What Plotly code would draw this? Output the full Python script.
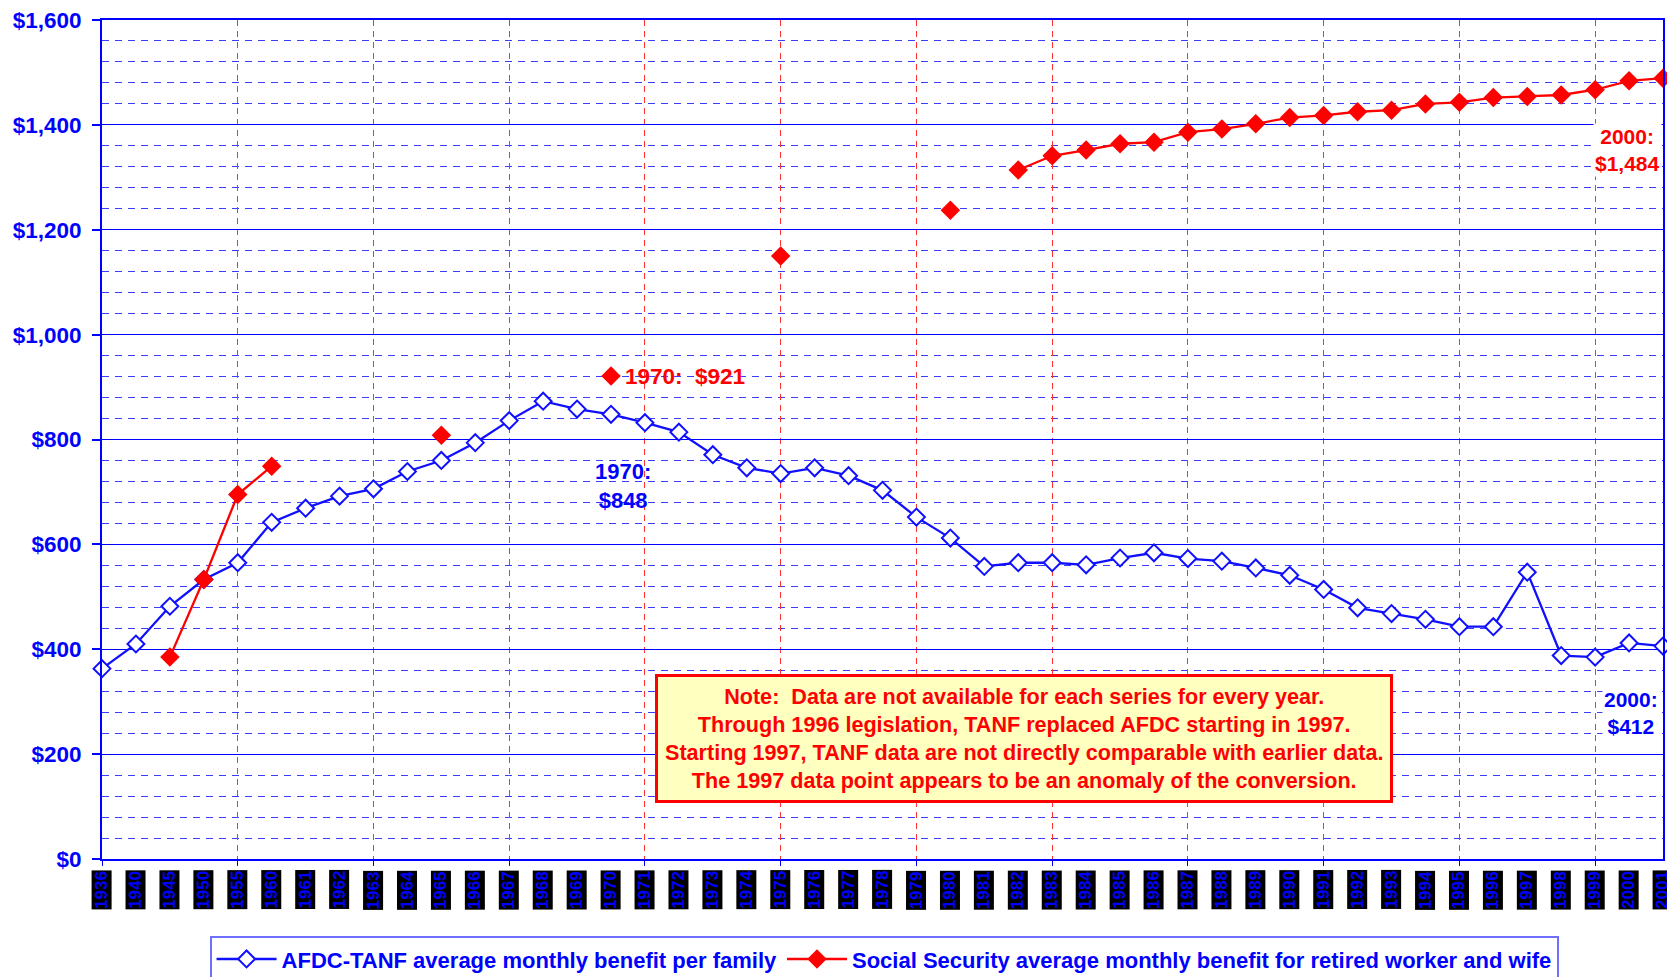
import plotly.graph_objects as go

years = ["1936", "1940", "1945", "1950", "1955",
         "1960", "1961", "1962", "1963", "1964", "1965", "1966", "1967", "1968", "1969",
         "1970", "1971", "1972", "1973", "1974", "1975", "1976", "1977", "1978", "1979",
         "1980", "1981", "1982", "1983", "1984", "1985", "1986", "1987", "1988", "1989",
         "1990", "1991", "1992", "1993", "1994", "1995", "1996", "1997", "1998", "1999",
         "2000", "2001"]

afdc_tanf = [363, 410, 482, 533, 565,
             642, 669, 692, 706, 739, 760, 794, 836, 873, 858,
             848, 832, 814, 771, 746, 735, 746, 731, 703, 652,
             612, 558, 565, 565, 561, 574, 584, 573, 568, 555,
             541, 514, 479, 468, 457, 443, 443, 547, 388, 385,
             412, 406]

social_security = [None, None, 385, 533, 695,
                   749, None, None, None, None, 808, None, None, None, None,
                   921, None, None, None, None, 1150, None, None, None, None,
                   1237, None, 1314, 1341, 1352, 1364, 1367, 1386, 1392, 1402,
                   1414, 1418, 1425, 1428, 1440, 1443, 1452, 1454, 1457, 1467,
                   1484, 1489]

y_ticks = [0, 200, 400, 600, 800, 1000, 1200, 1400, 1600]
y_ticktext = ["$0", "$200", "$400", "$600", "$800", "$1,000", "$1,200", "$1,400", "$1,600"]

FONT = "Liberation Sans, Arial, sans-serif"
BLUE = "#0000ff"
RED = "#ff0000"


def xi(year):
    """serial number of a category on the category axis"""
    return years.index(year)


fig = go.Figure()
fig.add_trace(go.Scatter(
    x=years, y=afdc_tanf, mode="lines+markers",
    name="<b>AFDC-TANF average monthly benefit per family</b>",
    line=dict(color="#1010ff", width=2.3),
    marker=dict(symbol="diamond", size=13, color="white",
                line=dict(color="#1010ff", width=2)),
    cliponaxis=False,
))
fig.add_trace(go.Scatter(
    x=years, y=social_security, mode="lines+markers",
    name="<b>Social Security average monthly benefit for retired worker and wife</b>",
    line=dict(color=RED, width=2.3),
    marker=dict(symbol="diamond", size=15, color=RED),
    connectgaps=False,
    cliponaxis=False,
))

annotations = []
# rotated category labels with black boxes
for yr in years:
    annotations.append(dict(
        x=xi(yr), xref="x", y=-0.013, yref="paper", yanchor="top", xanchor="center",
        text="<b>%s</b>" % yr, textangle=-90, showarrow=False,
        bgcolor="black", borderpad=0,
        font=dict(family=FONT, size=17, color=BLUE),
    ))

annotations += [
    dict(x=xi("1970"), y=921, xref="x", yref="y", xanchor="left", xshift=12,
         text="<b>1970:  $921</b>", showarrow=False,
         font=dict(family=FONT, size=22.5, color=RED)),
    dict(x=xi("1970"), y=712, xref="x", yref="y", xanchor="center", xshift=12,
         text="<b>1970:<br>$848</b>", showarrow=False,
         font=dict(family=FONT, size=22, color=BLUE)),
    dict(x=xi("2000"), y=1353, xref="x", yref="y", xanchor="center", xshift=-2,
         text="<b>2000:<br>$1,484</b>", showarrow=False, bgcolor="white",
         font=dict(family=FONT, size=21, color=RED)),
    dict(x=xi("2000"), y=278, xref="x", yref="y", xanchor="center", xshift=2,
         text="<b>2000:<br>$412</b>", showarrow=False, bgcolor="white",
         font=dict(family=FONT, size=21, color=BLUE)),
    dict(x=0.5905, y=0.144, xref="paper", yref="paper", xanchor="center", yanchor="middle",
         text=("<b>Note:  Data are not available for each series for every year.<br>"
               "Through 1996 legislation, TANF replaced AFDC starting in 1997.<br>"
               "Starting 1997, TANF data are not directly comparable with earlier data.<br>"
               "The 1997 data point appears to be an anomaly of the conversion.</b>"),
         showarrow=False, bgcolor="#ffffc0", bordercolor=RED, borderwidth=3, borderpad=7,
         align="center",
         font=dict(family=FONT, size=21.6, color=RED)),
]

fig.update_layout(
    width=1675, height=977,
    margin=dict(l=94, r=20, t=12, b=126, autoexpand=False),
    paper_bgcolor="white", plot_bgcolor="white",
    showlegend=True,
    legend=dict(orientation="h", x=0.501, xanchor="center", y=-0.092, yanchor="top",
                bgcolor="white", bordercolor="#7070ff", borderwidth=2,
                font=dict(family=FONT, size=22, color=BLUE),
                itemwidth=60, tracegroupgap=0),
    annotations=annotations,
    xaxis=dict(
        type="category", categoryorder="array", categoryarray=years,
        range=[0, len(years) - 1], automargin=False,
        tickmode="array", tickvals=years[::4], ticktext=[""] * len(years[::4]),
        ticks="outside", ticklen=5, tickcolor=BLUE, tickwidth=1,
        showgrid=True, gridcolor="#ff3030", gridwidth=1, griddash="6px,5px",
        showline=True, linecolor=BLUE, linewidth=2, mirror=True,
        zeroline=False,
    ),
    yaxis=dict(
        range=[0, 1600], automargin=False,
        tickmode="array", tickvals=y_ticks, ticktext=["<b>%s</b>" % t for t in y_ticktext],
        tickfont=dict(family=FONT, size=22.5, color=BLUE),
        ticklabeloverflow="allow",
        ticks="outside", ticklen=8, tickcolor=BLUE, tickwidth=1.5,
        ticklabelstandoff=6,
        showgrid=True, gridcolor=BLUE, gridwidth=1.3,
        minor=dict(dtick=40, tick0=0, showgrid=True, gridcolor="#3c3cff",
                   gridwidth=1, griddash="7px,6px", ticks=""),
        showline=True, linecolor=BLUE, linewidth=2, mirror=True,
        zeroline=False,
    ),
)

fig.write_html("out.html")
